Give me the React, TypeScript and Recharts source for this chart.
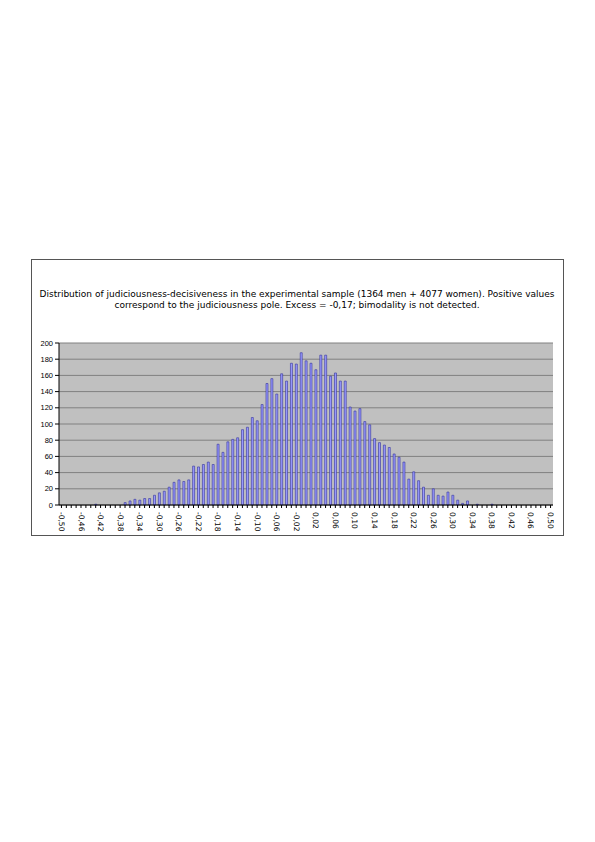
import React from 'react';
import { BarChart, Bar, XAxis, YAxis, CartesianGrid } from 'recharts';

const binLabels: string[] = [
  '-0,50','-0,49','-0,48','-0,47','-0,46','-0,45','-0,44','-0,43','-0,42','-0,41',
  '-0,40','-0,39','-0,38','-0,37','-0,36','-0,35','-0,34','-0,33','-0,32','-0,31',
  '-0,30','-0,29','-0,28','-0,27','-0,26','-0,25','-0,24','-0,23','-0,22','-0,21',
  '-0,20','-0,19','-0,18','-0,17','-0,16','-0,15','-0,14','-0,13','-0,12','-0,11',
  '-0,10','-0,09','-0,08','-0,07','-0,06','-0,05','-0,04','-0,03','-0,02','-0,01',
  '0,00','0,01','0,02','0,03','0,04','0,05','0,06','0,07','0,08','0,09',
  '0,10','0,11','0,12','0,13','0,14','0,15','0,16','0,17','0,18','0,19',
  '0,20','0,21','0,22','0,23','0,24','0,25','0,26','0,27','0,28','0,29',
  '0,30','0,31','0,32','0,33','0,34','0,35','0,36','0,37','0,38','0,39',
  '0,40','0,41','0,42','0,43','0,44','0,45','0,46','0,47','0,48','0,49',
  '0,50',
];

const counts: number[] = [
  0, 0, 0, 0, 0, 0, 0, 1, 0, 0,
  0, 0, 0, 3, 5, 7, 6, 8, 8, 12,
  15, 17, 22, 28, 31, 29, 31, 48, 47, 50,
  53, 50, 75, 65, 78, 81, 83, 93, 96, 108,
  104, 124, 150, 156, 137, 162, 153, 175, 174, 188,
  178, 175, 167, 185, 185, 159, 163, 153, 153, 121,
  116, 119, 103, 99, 82, 77, 74, 71, 63, 59,
  53, 32, 41, 30, 22, 12, 20, 12, 11, 16,
  12, 6, 2, 5, 0, 1, 0, 0, 1, 0,
  0, 0, 0, 0, 0, 0, 0, 0, 0, 0,
  0,
];

const yTicks: number[] = [0, 20, 40, 60, 80, 100, 120, 140, 160, 180, 200];

const titleLines: string[] = [
  'Distribution of judiciousness-decisiveness in the experimental sample (1364 men + 4077 women). Positive values',
  'correspond to the judiciousness pole. Excess = -0,17; bimodality is not detected.',
];

const data = binLabels.map((label, i) => ({ label, count: counts[i] }));

const XTick = (props: any) => {
  const { x, y, payload, index } = props;
  if (index % 4 !== 0) return null;
  return (
    <text
      x={0}
      y={0}
      transform={`translate(${x},${y + 2}) rotate(90)`}
      textAnchor="start"
      dominantBaseline="central"
      fontSize={7.5}
      fontFamily="'DejaVu Sans', sans-serif"
      fill="#000"
    >
      {payload.value}
    </text>
  );
};

export default function App() {
  return (
    <div style={{ position: 'absolute', left: 0, top: 0, width: 595, height: 842, background: '#fff' }}>
      <div
        style={{
          position: 'absolute',
          left: 31,
          top: 259,
          width: 531,
          height: 275,
          border: '1px solid #555',
        }}
      />
      <div
        style={{
          position: 'absolute',
          left: 31,
          top: 289,
          width: 532,
          textAlign: 'center',
          fontFamily: "'DejaVu Sans', sans-serif",
          fontSize: 9,
          lineHeight: '11px',
          color: '#000',
          whiteSpace: 'nowrap',
        }}
      >
        {titleLines.map((t) => (
          <div key={t}>{t}</div>
        ))}
      </div>
      <div style={{ position: 'absolute', left: 0, top: 0 }}>
        <BarChart
          width={595}
          height={560}
          data={data}
          margin={{ top: 343, right: 42, left: 0, bottom: 25 }}
          barCategoryGap="32%"
        >
          <CartesianGrid
            vertical={false}
            stroke="#808080"
            strokeWidth={1}
            fill="#C0C0C0"
            fillOpacity={1}
          />
          <XAxis
            dataKey="label"
            type="category"
            interval={0}
            tick={<XTick />}
            tickSize={3}
            height={30}
            axisLine={{ stroke: '#000' }}
            tickLine={{ stroke: '#000' }}
          />
          <YAxis
            type="number"
            domain={[0, 200]}
            ticks={yTicks}
            interval={0}
            width={59}
            tickSize={4}
            tickMargin={2}
            axisLine={{ stroke: '#000' }}
            tickLine={{ stroke: '#000' }}
            tick={{ fontSize: 7.5, fill: '#000', fontFamily: "'Liberation Sans', sans-serif" }}
          />
          <Bar
            dataKey="count"
            fill="#9999FF"
            stroke="#333399"
            strokeWidth={0.6}
            isAnimationActive={false}
          />
        </BarChart>
      </div>
    </div>
  );
}
